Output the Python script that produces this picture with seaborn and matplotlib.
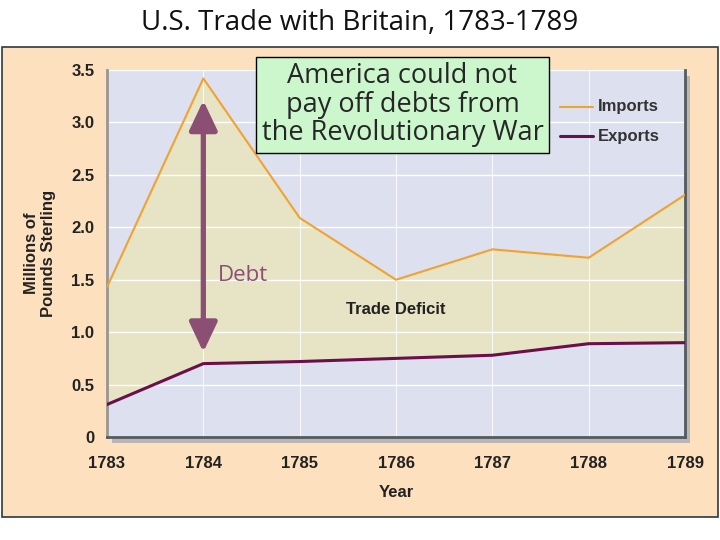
import numpy as np
import pandas as pd
import matplotlib
matplotlib.use('Agg')
import matplotlib.pyplot as plt
import seaborn as sns
from matplotlib.patches import Rectangle

years = [1783, 1784, 1785, 1786, 1787, 1788, 1789]
imports = [1.43, 3.42, 2.09, 1.50, 1.79, 1.71, 2.31]
exports = [0.31, 0.70, 0.72, 0.75, 0.78, 0.89, 0.90]
yticks = [0, 0.5, 1.0, 1.5, 2.0, 2.5, 3.0, 3.5]
ytick_labels = ['0', '0.5', '1.0', '1.5', '2.0', '2.5', '3.0', '3.5']

trade = pd.DataFrame({'Year': years * 2,
                      'Value': imports + exports,
                      'Series': ['Imports'] * 7 + ['Exports'] * 7})

sns.set_style('white')
plt.rcParams['font.family'] = ['Liberation Sans', 'DejaVu Sans']

fig = plt.figure(figsize=(7.2, 5.4), dpi=100)
fig.patch.set_facecolor('white')

# peach panel behind the chart
fig.patches.append(Rectangle((0.003, 0.043), 0.994, 0.870, transform=fig.transFigure,
                             facecolor='#fde0be', edgecolor='#2b3a40', lw=1.2, zorder=0))
# shadow of the plot area
fig.patches.append(Rectangle((0.155, 0.180), 0.803, 0.68, transform=fig.transFigure,
                             facecolor='#b9b6b4', edgecolor='none', zorder=0.5))

ax = fig.add_axes([0.1486, 0.1907, 0.8028, 0.6796])
ax.set_facecolor('#dde0ef')
ax.set_zorder(1)

ax.fill_between(years, exports, imports, color='#e6e4c4', zorder=1)
for y in yticks[1:]:
    ax.axhline(y, color='white', lw=1, zorder=1.5)
for x in years[1:-1]:
    ax.axvline(x, color='white', lw=0.8, alpha=0.8, zorder=1.5)

sns.lineplot(data=trade, x='Year', y='Value', hue='Series',
             palette={'Imports': '#f0a233', 'Exports': '#6b0f4c'},
             hue_order=['Imports', 'Exports'], ax=ax, zorder=3, legend=False)
ax.lines[-2].set_linewidth(1.5)
ax.lines[-1].set_linewidth(2.2)

ax.set_xlim(1783, 1789)
ax.set_ylim(0, 3.5)
ax.set_yticks(yticks)
ax.set_yticklabels(ytick_labels)
ax.set_xticks(years)
ax.tick_params(axis='both', length=0, labelsize=12, colors='#222222')
ax.tick_params(axis='y', pad=9)
ax.tick_params(axis='x', pad=14)
for lbl in ax.get_xticklabels():
    lbl.set_fontweight('bold')
for lbl in ax.get_yticklabels():
    lbl.set_fontweight('bold')

ax.set_xlabel('Year', fontsize=12, fontweight='bold', color='#222222', labelpad=10)
ax.set_ylabel('Millions of\nPounds Sterling', fontsize=12, fontweight='bold',
              color='#222222', labelpad=11)

ax.spines['top'].set_visible(False)
ax.spines['left'].set_color('#9a9590')
ax.spines['left'].set_linewidth(2)
ax.spines['bottom'].set_color('#555a60')
ax.spines['bottom'].set_linewidth(2)
ax.spines['right'].set_color('#555a60')
ax.spines['right'].set_linewidth(2)

# legend
ax.plot([1787.7, 1788.05], [3.15, 3.15], color='#f0a233', lw=1.5, zorder=3)
ax.plot([1787.7, 1788.05], [2.87, 2.87], color='#6b0f4c', lw=2.2, zorder=3)
ax.text(1788.1, 3.15, 'Imports', fontsize=12, fontweight='bold', color='#333333',
        va='center', zorder=3)
ax.text(1788.1, 2.87, 'Exports', fontsize=12, fontweight='bold', color='#333333',
        va='center', zorder=3)

ax.text(1786.0, 1.22, 'Trade Deficit', fontsize=12, fontweight='bold', color='#222222',
        ha='center', va='center', zorder=3)

# debt arrow
ax.annotate('', xy=(1784, 0.81), xytext=(1784, 3.21),
            arrowprops=dict(arrowstyle='<|-|>,head_length=1.8,head_width=0.85',
                            color='#8b4f74', lw=3.8, shrinkA=0, shrinkB=0), zorder=4)
ax.text(1784.15, 1.54, 'Debt', fontsize=16, color='#8b4f74', family=['Open Sans', 'DejaVu Sans'],
        va='center', ha='left', zorder=4)

fig.text(0.559, 0.806, 'America could not\npay off debts from\nthe Revolutionary War',
         fontsize=19.5, family=['Open Sans', 'DejaVu Sans'], ha='center', va='center',
         linespacing=1.02, zorder=5,
         bbox=dict(boxstyle='square,pad=0.2', facecolor='#ccf7cc', edgecolor='black', lw=1))

fig.text(0.5, 0.958, 'U.S. Trade with Britain, 1783-1789', fontsize=20,
         family=['Open Sans', 'DejaVu Sans'], ha='center', va='center', color='#111111')

fig.savefig('out.png', dpi=100)
